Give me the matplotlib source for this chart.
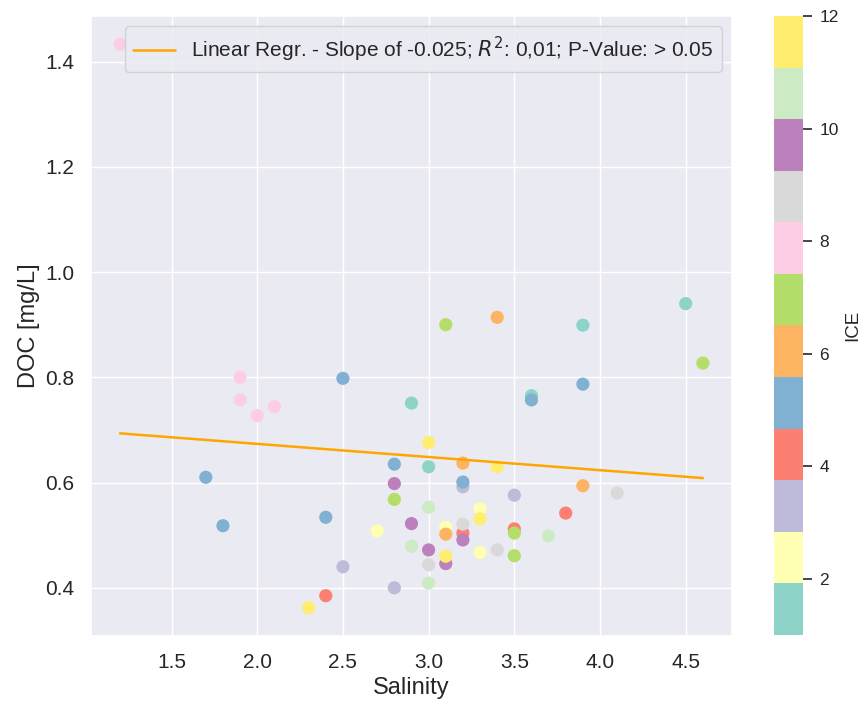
import numpy as np
import matplotlib
matplotlib.use("Agg")
import matplotlib.pyplot as plt
import seaborn as sns

# Salinity, dissolved organic carbon and ICE class of each sample
salinity = [1.2, 1.7, 1.8, 1.9, 1.9, 2.0, 2.1, 2.3, 2.4, 2.4, 2.5, 2.5, 2.7,
            2.8, 2.8, 2.8, 2.8, 2.9, 2.9, 2.9, 3.0, 3.0, 3.0, 3.0, 3.0, 3.0,
            3.1, 3.1, 3.1, 3.1, 3.1, 3.2, 3.2, 3.2, 3.2, 3.2, 3.2, 3.3, 3.3,
            3.3, 3.4, 3.4, 3.4, 3.5, 3.5, 3.5, 3.5, 3.6, 3.6, 3.7, 3.8, 3.9,
            3.9, 3.9, 4.1, 4.5, 4.6]
doc = [1.433, 0.610, 0.518, 0.800, 0.757, 0.727, 0.744, 0.362, 0.534, 0.385,
       0.798, 0.440, 0.508, 0.635, 0.598, 0.568, 0.400, 0.751, 0.522, 0.479,
       0.676, 0.630, 0.553, 0.472, 0.444, 0.409, 0.900, 0.515, 0.502, 0.460,
       0.446, 0.637, 0.601, 0.592, 0.521, 0.504, 0.491, 0.550, 0.531, 0.467,
       0.914, 0.630, 0.472, 0.576, 0.512, 0.504, 0.461, 0.765, 0.757, 0.499,
       0.542, 0.899, 0.787, 0.594, 0.580, 0.940, 0.827]
ice = [8, 5, 5, 8, 8, 8, 8, 12, 5, 4, 5, 3, 2, 5, 10, 7, 3, 1, 10, 11, 12, 1,
       11, 10, 9, 11, 7, 2, 6, 12, 10, 6, 5, 3, 9, 4, 10, 2, 12, 2, 6, 12, 9,
       3, 4, 7, 7, 1, 5, 11, 4, 1, 5, 6, 9, 1, 7]

# Regression line and the summary shown in the legend
slope = -0.025
intercept = 0.7235
r_squared = "0,01"
p_value_text = "> 0.05"

sns.set_theme(style="darkgrid")
plt.rcParams["font.family"] = ["Liberation Sans", "DejaVu Sans"]

x = np.array(salinity)
y = np.array(doc)
c = np.array(ice)

# draw lower classes first so higher ones sit on top
order = np.argsort(c, kind="stable")

fig = plt.figure(figsize=(8.64, 7.04), dpi=100)
ax = fig.add_axes([0.1053, 0.0966, 0.7419, 0.8807])
cax = fig.add_axes([0.8958, 0.0980, 0.0340, 0.8793])

sc = ax.scatter(x[order], y[order], c=c[order], cmap="Set3", vmin=1, vmax=12,
                s=90, edgecolors="none", zorder=3)

xl = np.array([x.min(), x.max()])
ax.plot(xl, intercept + slope * xl, color="orange", lw=1.8, zorder=4,
        label=f"Linear Regr. - Slope of {slope}; $R^2$: {r_squared}; "
              f"P-Value: {p_value_text}")

ax.set_xlabel("Salinity", fontsize=17, color="0.15")
ax.set_ylabel("DOC [mg/L]", fontsize=17, color="0.15")
ax.tick_params(axis="both", labelsize=15, colors="0.15", pad=6)
ax.set_xticks([1.5, 2.0, 2.5, 3.0, 3.5, 4.0, 4.5])
ax.set_yticks([0.4, 0.6, 0.8, 1.0, 1.2, 1.4])
ax.legend(loc="upper right", fontsize=15, framealpha=0.8)

cb = fig.colorbar(sc, cax=cax)
cb.outline.set_visible(False)
cb.set_ticks([2, 4, 6, 8, 10, 12])
cb.ax.tick_params(labelsize=12.5, length=6.5, width=1.2, colors="0.15",
                  right=True, pad=5)
cb.set_label("ICE", fontsize=13.5, color="0.15")

fig.savefig("out.png", dpi=100)
